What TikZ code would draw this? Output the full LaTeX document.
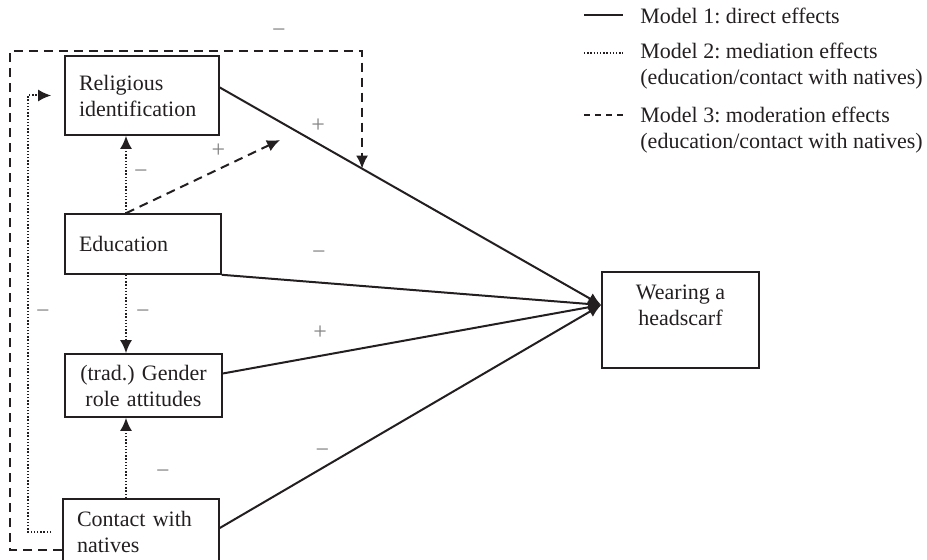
\documentclass[tikz,border=0pt]{standalone}
\usepackage{fontspec}
\setmainfont{Liberation Serif}
\usetikzlibrary{arrows.meta}
\definecolor{ink}{HTML}{231F20}
\definecolor{signgray}{HTML}{808080}
\frenchspacing

\begin{document}
\begin{tikzpicture}[x=0.5pt, y=-0.5pt,
      >={Latex[length=6.5pt,width=6pt]},
      font=\fontsize{11pt}{13pt}\selectfont,
      % styles for boxes and the three kinds of effects
      box/.style    ={draw=ink, line width=0.8pt, inner xsep=7pt, inner ysep=0pt, text=ink},
      direct/.style ={draw=ink, line width=1pt},
      medi/.style   ={draw=ink, line width=1pt, dash pattern=on 0.7pt off 0.9pt},
      moder/.style  ={draw=ink, line width=1pt, dash pattern=on 4.5pt off 3pt},
      sign/.style   ={text=signgray, font=\fontsize{12pt}{14pt}\selectfont, inner sep=0pt},
      legend/.style ={anchor=west, align=left, inner xsep=0pt, text=ink}
    ]
    \useasboundingbox (0,0) rectangle (927,560);
    \clip (0,0) rectangle (927,560);

    % predictors on the left, outcome on the right
    \node[box, text width=63pt, align=left, minimum height=39.5pt] (relig) at (142,95.5) {Religious\\identification};
    \node[box, text width=64pt, align=left, minimum height=30pt] (educ) at (143,244) {Education};
    \node[box, inner xsep=2pt, text width=74.5pt, align=center, minimum height=31.5pt] (gender) at (143.5,385.5) {(trad.) Gender\\role attitudes};
    \node[box, text width=64pt, align=left, minimum height=33pt] (contact) at (141,532) {Contact with\\natives};
    \node[box, minimum width=78.5pt, minimum height=48pt] (wear) at (680.5,320) {};
    \node[align=center, text=ink] (weartxt) at (680.5,305) {Wearing a\\headscarf};

    % helper points
    \coordinate (hit) at (wear.west |- weartxt.center);
    \coordinate (col) at (126,0);
    \coordinate (lane) at (28,0);
    \coordinate (ceil) at (10,51);
    \coordinate (cbot) at ([yshift=-9pt]contact.west);
    \coordinate (modend) at (280,140);
    \path ([yshift=4pt]relig.east) -- (hit) coordinate[pos=.373] (modtip);

    % model 1: direct effects
    \draw[direct,->] ([yshift=4pt]relig.east) -- node[sign, pos=.258, yshift=9pt] (s1) {+} (hit);
    \draw[direct,->] (educ.south east) -- node[sign, pos=.256, yshift=13.5pt] (s2) {−} (hit);
    \draw[direct,->] ([yshift=6pt]gender.east) -- node[sign, pos=.257, yshift=11.5pt] (s3) {+} (hit);
    \draw[direct,->] ([yshift=2pt]contact.east) -- node[sign, pos=.269, yshift=7.3pt] (s4) {−} (hit);

    % model 2: mediation effects
    \draw[medi,->] (col |- educ.north) -- node[sign, xshift=7.5pt] (s5) {−} (col |- relig.south);
    \draw[medi,->] (col |- educ.south) -- node[sign, xshift=8.5pt] (s6) {−} (col |- gender.north);
    \draw[medi,->] (col |- contact.north) -- node[sign, pos=.3, xshift=18.5pt] (s7) {−} (col |- gender.south);
    \draw[medi,->] ([xshift=-5.5pt]contact.west) -- (lane |- contact.west)
      -- node[sign, xshift=7.5pt] (s8) {−} (lane |- relig.west) -- ([xshift=-6.5pt]relig.west);

    % model 3: moderation effects
    \draw[moder,->] (col |- educ.north) -- node[sign, pos=.6, yshift=9.5pt] (s9) {+} (modend);
    \draw[moder,->] (cbot) -| (ceil) -- node[sign, pos=.764, yshift=9pt] (s10) {−} (ceil -| modtip) -- (modtip);

    % legend
    \node[legend] (leg1) at (640,16) {Model 1: direct effects};
    \node[legend] (leg2) at (640,66) {Model 2: mediation effects\\(education/contact with natives)};
    \node[legend] (leg3) at (640,130) {Model 3: moderation effects\\(education/contact with natives)};
    \draw[direct] (584,15) -- (623,15);
    \draw[medi, line width=0.6pt] (584,53) -- (623,53);
    \draw[moder, dash pattern=on 3pt off 2.5pt] (584,115) -- (623,115);
\end{tikzpicture}
\end{document}
